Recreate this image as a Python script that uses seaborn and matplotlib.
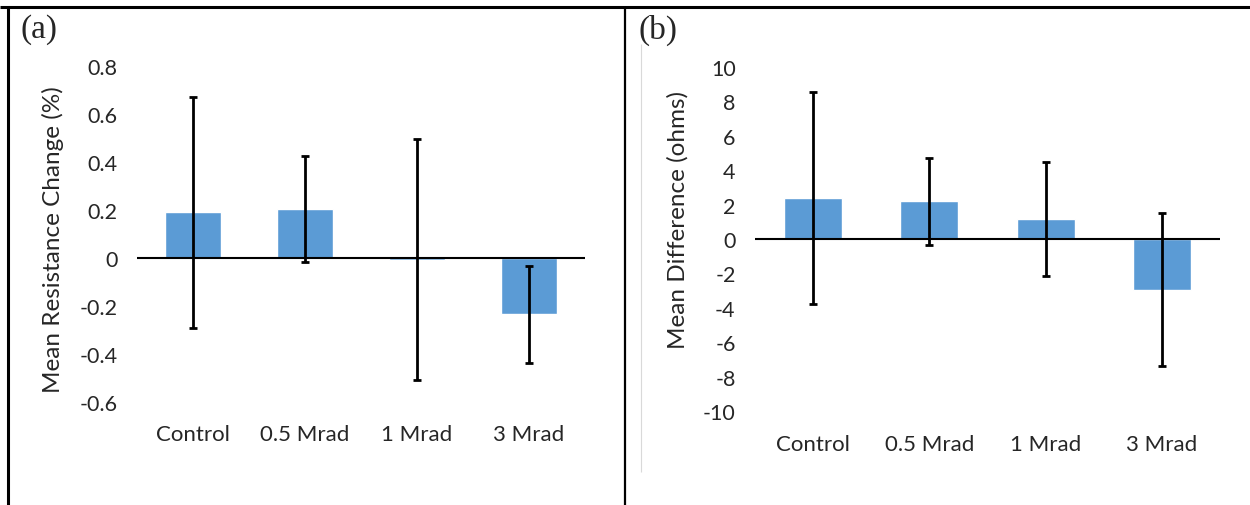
import matplotlib
matplotlib.use("Agg")
import matplotlib.pyplot as plt
import seaborn as sns
import pandas as pd
from matplotlib.lines import Line2D

# -----------------------------
# DATA
# -----------------------------
categories = ["Control", "0.5 Mrad", "1 Mrad", "3 Mrad"]

resist_mean = [0.19, 0.203, -0.007, -0.235]
resist_err = [0.48, 0.221, 0.503, 0.203]

diff_mean = [2.37, 2.18, 1.15, -2.95]
diff_err = [6.15, 2.55, 3.29, 4.43]

resist_ticks = [-0.6, -0.4, -0.2, 0, 0.2, 0.4, 0.6, 0.8]
resist_ticklabels = ["-0.6", "-0.4", "-0.2", "0", "0.2", "0.4", "0.6", "0.8"]
diff_ticks = [-10, -8, -6, -4, -2, 0, 2, 4, 6, 8, 10]

BAR_COLOR = "#5B9BD5"
W, H = 1250, 506

sns.set_style("white")
plt.rcParams["font.family"] = ["Lato", "DejaVu Sans"]

fig = plt.figure(figsize=(W / 100, H / 100), dpi=100)


def px_axes(x0, x1, ytop, ybot):
    return fig.add_axes([x0 / W, (H - ybot) / H, (x1 - x0) / W, (ybot - ytop) / H])


def draw_panel(ax, means, errs, ylim, ticks, ticklabels, ylabel, label_xy, pad):
    df = pd.DataFrame({"cat": categories, "val": means})
    sns.barplot(data=df, x="cat", y="val", color=BAR_COLOR, width=0.5,
                saturation=1, ax=ax, errorbar=None)
    ax.errorbar(range(len(categories)), means, yerr=errs, fmt="none",
                ecolor="black", elinewidth=2.0, capsize=3.2, capthick=2.0)
    ax.axhline(0, color="black", lw=1.5)
    ax.set_xlim(-0.5, len(categories) - 0.5)
    ax.set_ylim(*ylim)
    ax.set_yticks(ticks)
    ax.set_yticklabels(ticklabels)
    ax.set_xlabel("")
    ax.set_ylabel(ylabel, fontsize=17.5, color="#262626")
    ax.yaxis.set_label_coords(*label_xy)
    sns.despine(ax=ax, left=True, bottom=True)
    ax.tick_params(axis="y", length=0, labelsize=15.5, colors="#262626", pad=14)
    ax.tick_params(axis="x", length=0, labelsize=16, colors="#262626", pad=pad)


# panel (a)
ax1 = px_axes(137, 585, 67, 403)
draw_panel(ax1, resist_mean, resist_err, (-0.6, 0.8), resist_ticks,
           resist_ticklabels, "Mean Resistance Change (%)", (-0.163, 0.485), 16)

# panel (b)
ax2 = px_axes(755, 1220, 67.7, 412.3)
draw_panel(ax2, diff_mean, diff_err, (-10, 10), diff_ticks,
           [str(t) for t in diff_ticks], "Mean Difference (ohms)", (-0.142, 0.558), 16.5)

# panel letters
fig.text(20 / W, 1 - 30 / H, "(a)", family="Liberation Serif", fontsize=24, va="center")
fig.text(638 / W, 1 - 30 / H, "(b)", family="Liberation Serif", fontsize=24, va="center")

# frame lines
def fig_line(x0, y0, x1, y1, lw, color="black"):
    fig.add_artist(Line2D([x0 / W, x1 / W], [1 - y0 / H, 1 - y1 / H],
                          lw=lw, color=color, solid_capstyle="butt"))

fig_line(0, 7.5, W, 7.5, 2.2)
fig_line(7.5, 6.5, 7.5, H, 2.2)
fig_line(625, 6.5, 625, H, 1.6)
fig_line(641, 45, 641, 473, 0.8, "#d9d9d9")

fig.savefig("out.png", dpi=100)
